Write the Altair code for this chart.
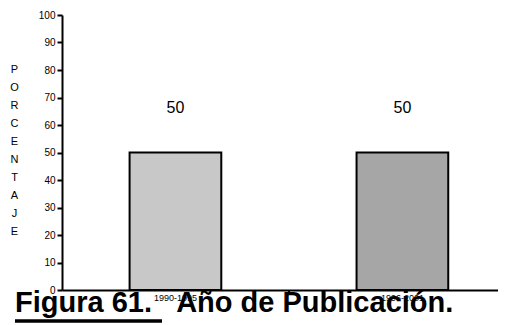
import altair as alt
import pandas as pd

categories = ["1990-1995", "1996-2001"]
values = [50, 50]
colors = ["#c8c8c8", "#a6a6a6"]
y_ticks = [0, 10, 20, 30, 40, 50, 60, 70, 80, 90, 100]
y_title_letters = ["P", "O", "R", "C", "E", "N", "T", "A", "J", "E"]
fig_title = "Figura 61.\u00a0\u00a0\u00a0Año de Publicación."

df = pd.DataFrame({"periodo": categories, "porcentaje": values, "color": colors})

FONT = "Liberation Sans"

x_enc = alt.X(
    "periodo:N",
    sort=categories,
    scale=alt.Scale(paddingInner=0.596, paddingOuter=0.2585, align=0.576),
    axis=alt.Axis(
        title=None,
        labelAngle=0,
        labelFontSize=9,
        labelFont=FONT,
        labelColor="black",
        labelPadding=3,
        ticks=False,
        domainColor="black",
        domainWidth=2,
    ),
)
y_enc = alt.Y(
    "porcentaje:Q",
    scale=alt.Scale(domain=[0, 100], nice=False),
    axis=alt.Axis(
        values=y_ticks,
        tickCount=11,
        labelOverlap=False,
        title=y_title_letters,
        titleAngle=0,
        titleFont=FONT,
        titleFontSize=11,
        titleFontWeight="normal",
        titleColor="black",
        titleLineHeight=18,
        titleAlign="center",
        titleBaseline="top",
        titleX=-48,
        titleY=48,
        labelFont=FONT,
        labelFontSize=10,
        labelColor="black",
        labelPadding=2,
        tickColor="black",
        tickWidth=2,
        tickSize=5,
        domainColor="black",
        domainWidth=2,
        grid=False,
    ),
)

bars = alt.Chart(df).mark_bar(stroke="black", strokeWidth=2).encode(
    x=x_enc,
    y=y_enc,
    color=alt.Color("color:N", scale=None),
)

labels = alt.Chart(df).mark_text(
    font=FONT, fontSize=16, color="black", baseline="middle", dy=-45
).encode(
    x=x_enc,
    y=y_enc,
    text=alt.Text("porcentaje:Q"),
)

underline = alt.Chart(df).mark_rule(color="black", strokeWidth=3).encode(
    x=alt.value(-47), x2=alt.value(100), y=alt.value(31 + 275)
)

mid_tick = alt.Chart(df).mark_rule(color="black", strokeWidth=2).encode(
    x=alt.value(227), y=alt.value(275), y2=alt.value(280)
)

chart = (
    alt.layer(bars, labels, underline, mid_tick)
    .properties(
        width=436,
        height=275,
        padding={"left": 54, "top": 7, "right": 0, "bottom": 35},
        autosize=alt.AutoSizeParams(type="none"),
        title=alt.TitleParams(
            text=fig_title,
            orient="bottom",
            anchor="start",
            font=FONT,
            fontSize=29,
            fontWeight="bold",
            color="black",
            dx=-47,
            offset=-34,
            frame="group",
        ),
    )
    .configure_view(stroke=None)
)

chart.save("out.html", embed_options={"renderer": "svg", "actions": False})
